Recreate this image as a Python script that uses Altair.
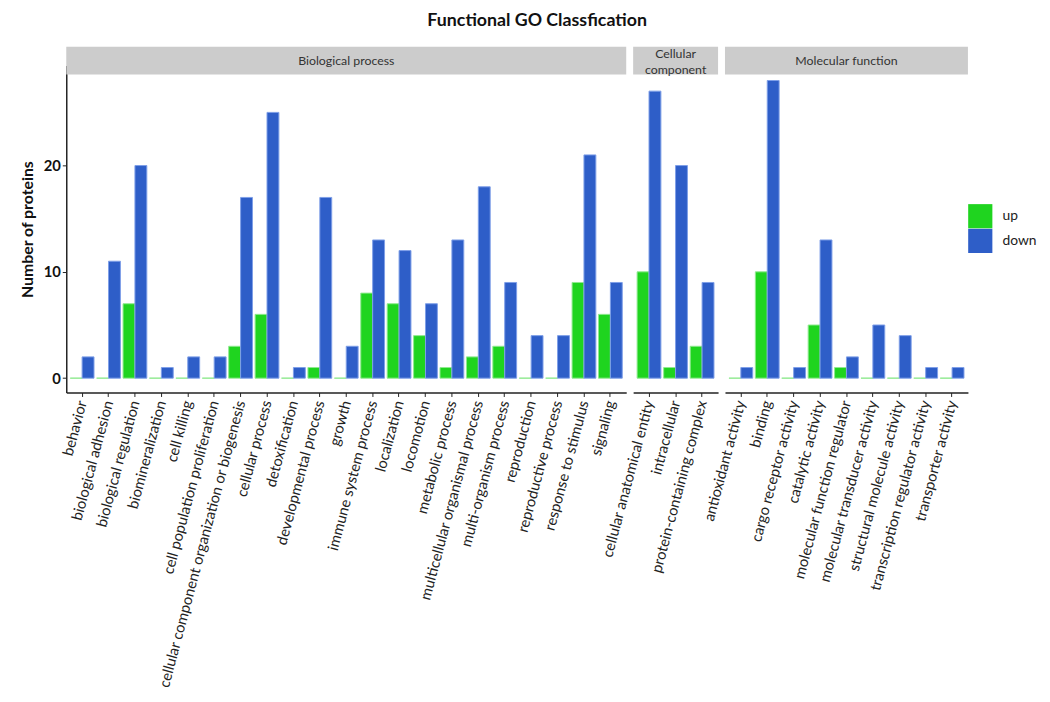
import altair as alt
import pandas as pd

bp_terms = ["behavior", "biological adhesion", "biological regulation", "biomineralization",
            "cell killing", "cell population proliferation",
            "cellular component organization or biogenesis", "cellular process",
            "detoxification", "developmental process", "growth", "immune system process",
            "localization", "locomotion", "metabolic process",
            "multicellular organismal process", "multi-organism process", "reproduction",
            "reproductive process", "response to stimulus", "signaling"]
bp_up = [0, 0, 7, 0, 0, 0, 3, 6, 0, 1, 0, 8, 7, 4, 1, 2, 3, 0, 0, 9, 6]
bp_down = [2, 11, 20, 1, 2, 2, 17, 25, 1, 17, 3, 13, 12, 7, 13, 18, 9, 4, 4, 21, 9]

cc_terms = ["cellular anatomical entity", "intracellular", "protein-containing complex"]
cc_up = [10, 1, 3]
cc_down = [27, 20, 9]

mf_terms = ["antioxidant activity", "binding", "cargo receptor activity", "catalytic activity",
            "molecular function regulator", "molecular transducer activity",
            "structural molecule activity", "transcription regulator activity",
            "transporter activity"]
mf_up = [0, 10, 0, 5, 1, 0, 0, 0, 0]
mf_down = [1, 28, 1, 13, 2, 5, 4, 1, 1]

groups = ["Biological process", "Cellular\ncomponent", "Molecular function"]
regulations = ["up", "down"]

GREEN = "#1FD41F"
BLUE = "#2E5EC8"
STEP = 26.75
FONT = "Lato"


def make_df(terms, up, down):
    rows = []
    for t, u, d in zip(terms, up, down):
        rows.append({"term": t, "regulation": "up", "count": u})
        rows.append({"term": t, "regulation": "down", "count": d})
    return pd.DataFrame(rows)


def panel(terms, up, down, label, first):
    n = len(terms)
    width = round(STEP * (n + 0.2))
    df = make_df(terms, up, down)
    y_axis = alt.Axis(title="Number of proteins", values=[0, 10, 20], grid=False,
                      domainColor="#222222", domainWidth=1.5, tickColor="#222222",
                      tickSize=4, labelFont=FONT, labelFontSize=15, labelFontWeight="bold",
                      labelColor="#111111", titleFont=FONT, titleFontSize=16,
                      titleFontWeight="bold", titleColor="#111111", titlePadding=8) if first else None
    legend = alt.Legend(title=None, orient="none", legendX=913, legendY=140,
                        symbolType="square", symbolSize=600, symbolStrokeWidth=0,
                        labelFont=FONT, labelFontSize=14, labelColor="#222222",
                        rowPadding=0, labelOffset=10) if first else None
    bars = alt.Chart(df).mark_bar(strokeWidth=1).encode(
        x=alt.X("term:N", sort=terms,
                scale=alt.Scale(paddingInner=0.1, paddingOuter=0.15),
                axis=alt.Axis(title=None, labelAngle=-75, labelAlign="right",
                              labelBaseline="middle", labelFont=FONT, labelFontSize=15,
                              labelColor="#222222", domainColor="#222222", domainWidth=1.5,
                              tickColor="#222222", tickSize=4, labelPadding=4, grid=False,
                              labelLimit=400)),
        xOffset=alt.XOffset("regulation:N", sort=regulations,
                            scale=alt.Scale(domain=regulations, paddingInner=0, paddingOuter=0)),
        y=alt.Y("count:Q", stack=None,
                scale=alt.Scale(domain=[-1.35, 29.4], nice=False, zero=False),
                axis=y_axis),
        y2=alt.datum(0),
        color=alt.Color("regulation:N", sort=regulations,
                        scale=alt.Scale(domain=regulations, range=[GREEN, BLUE]),
                        legend=legend),
        stroke=alt.Stroke("regulation:N",
                          scale=alt.Scale(domain=regulations, range=["#8FEA8F", "#7E9EE8"]),
                          legend=None),
    )
    lab = pd.DataFrame({"label": [label]})
    strip = alt.Chart(lab).mark_rect(color="#CCCCCC").encode(
        x=alt.value(0), x2=alt.value(width), y=alt.value(-19), y2=alt.value(9))
    two = "\n" in label
    text = alt.Chart(lab).mark_text(font=FONT, fontSize=12.5, color="#333333",
                                    lineBreak="\n", lineHeight=16,
                                    baseline="middle").encode(
        x=alt.value(width / 2), y=alt.value(-12 if two else -5), text="label:N")
    return alt.layer(bars, strip, text).properties(width=width, height=331)


chart = alt.hconcat(
    panel(bp_terms, bp_up, bp_down, groups[0], True),
    panel(cc_terms, cc_up, cc_down, groups[1], False),
    panel(mf_terms, mf_up, mf_down, groups[2], False),
    spacing=7, bounds="flush",
).properties(
    title=alt.Title("Functional GO Classfication", font=FONT, fontSize=18,
                    fontWeight="bold", color="#111111", anchor="middle", offset=17, dx=9),
    padding={"left": 11, "top": 0, "right": 5, "bottom": 5},
).configure_view(stroke=None).configure_axis(grid=False)

chart.save("out.html", embed_options={"renderer": "svg", "actions": False})
